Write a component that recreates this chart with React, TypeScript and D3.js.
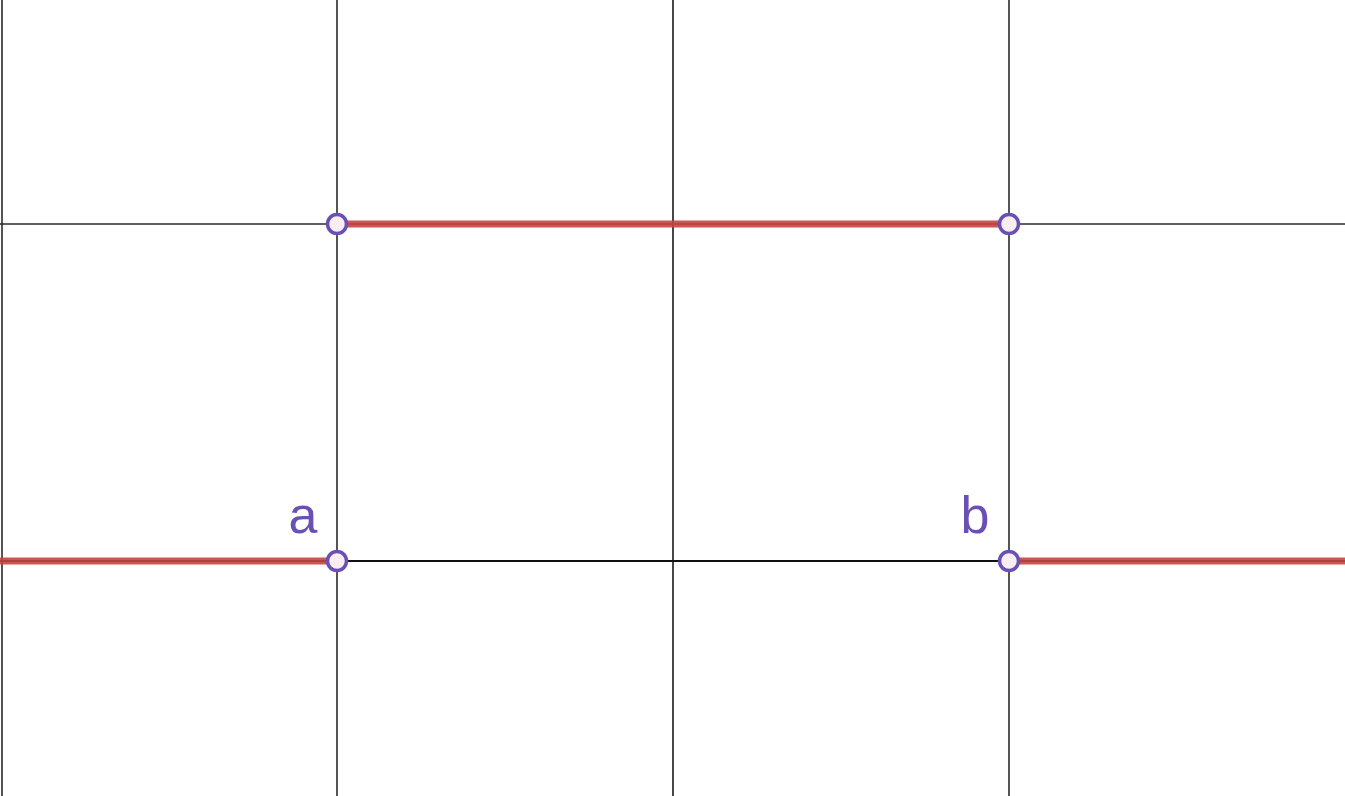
import React from "react";
import * as d3 from "d3";

const W = 1345;
const H = 796;
const xTicks = [-2, -1, 0, 1];
const yTicks = [0, 1];
const segments = [
  { x0: -2.1, x1: -1, y: 0 },
  { x0: -1, x1: 1, y: 1 },
  { x0: 1, x1: 2.1, y: 0 },
];
const openPoints = [
  { x: -1, y: 0 },
  { x: -1, y: 1 },
  { x: 1, y: 1 },
  { x: 1, y: 0 },
];
const labels = [
  { text: "a", x: -1, y: 0 },
  { text: "b", x: 1, y: 0 },
];

export default function App() {
  const x = d3.scaleLinear().domain([-1, 1]).range([337, 1009]);
  const y = d3.scaleLinear().domain([0, 1]).range([561, 224]);
  const line = d3.line<[number, number]>().x((d) => x(d[0])).y((d) => y(d[1]));
  return (
    <svg
      width={W}
      height={H}
      style={{ position: "absolute", left: 0, top: 0, background: "#fff" }}
    >
      {xTicks.map((t) => (
        <line
          key={"vx" + t}
          x1={x(t) + (t === -2 ? 1 : 0)}
          x2={x(t) + (t === -2 ? 1 : 0)}
          y1={0}
          y2={H}
          stroke={t === 0 ? "#1a1a1a" : "#2a2a2a"}
          strokeWidth={1.6}
        />
      ))}
      {yTicks.map((t) => (
        <line
          key={"hy" + t}
          x1={0}
          x2={W}
          y1={y(t)}
          y2={y(t)}
          stroke={t === 0 ? "#111" : "#2a2a2a"}
          strokeWidth={t === 0 ? 2 : 1.6}
        />
      ))}
      {segments.map((s, i) => (
        <path
          key={"s" + i}
          d={line([
            [s.x0, s.y],
            [s.x1, s.y],
          ])!}
          stroke="#c74440"
          strokeOpacity={0.9}
          strokeWidth={7}
          fill="none"
        />
      ))}
      {openPoints.map((p, i) => (
        <circle
          key={"p" + i}
          cx={x(p.x)}
          cy={y(p.y)}
          r={9.5}
          fill="#f8eef1"
          stroke="#6a4fb5"
          strokeWidth={3.5}
        />
      ))}
      {labels.map((l, i) => (
        <text
          key={"l" + i}
          x={x(l.x) - 34}
          y={y(l.y) - 28}
          textAnchor="middle"
          fontFamily="Liberation Sans, Arial, sans-serif"
          fontSize={52}
          fill="#6a4fb5"
        >
          {l.text}
        </text>
      ))}
    </svg>
  );
}
